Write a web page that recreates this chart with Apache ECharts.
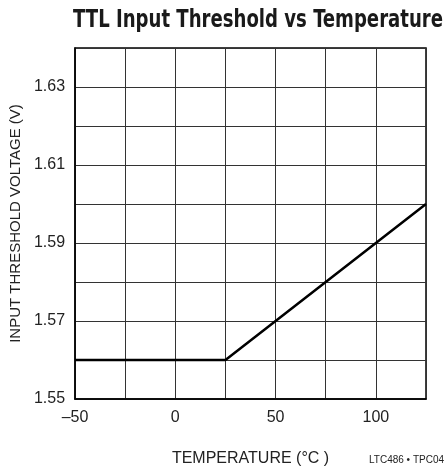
<!DOCTYPE html>
<html>
<head>
<meta charset="utf-8">
<script src="https://cdn.jsdelivr.net/npm/echarts@6/dist/echarts.min.js"></script>
<style>
  html, body { margin: 0; padding: 0; background: #fff; }
  #chart { width: 447px; height: 472px; }
</style>
</head>
<body>
<div id="chart"></div>
<script>
// data
var temps = [-50, 25, 125]
var volts = [1.56, 1.56, 1.60]
var xLabels = [-50, 0, 50, 100]
var yLabels = [1.55, 1.57, 1.59, 1.61, 1.63]

var titleText = 'TTL Input Threshold vs Temperature'
var titleFont = 'bold 25px "DejaVu Sans Condensed", "Liberation Sans", sans-serif'
var plain = '"Liberation Sans", Arial, sans-serif'

// squeeze the title so it fits the same width as the original
var ctx = document.createElement('canvas').getContext('2d')
ctx.font = titleFont
var titleScale = 370 / ctx.measureText(titleText).width

var points = []
for (var i = 0; i < temps.length; i++) {
  points.push([temps[i], volts[i]])
}

var myChart = echarts.init(document.getElementById('chart'))
var option = {
  animation: false,
  grid: {
    left: 73, right: 21, top: 48, bottom: 73,
    show: true, borderColor: '#000', borderWidth: 1.5
  },
  xAxis: {
    type: 'value',
    min: -50, max: 125, interval: 25,
    name: 'TEMPERATURE (°C )',
    nameLocation: 'middle',
    nameGap: 52,
    nameTextStyle: { fontFamily: plain, fontSize: 16, color: '#222' },
    axisLine: { onZero: false, lineStyle: { color: '#000', width: 1.5 } },
    axisTick: { show: false },
    axisLabel: {
      fontFamily: plain, fontSize: 16, color: '#222', margin: 11,
      formatter: function (v) {
        if (xLabels.indexOf(v) < 0) return ''
        return String(v).replace('-', '–')
      }
    },
    splitLine: { show: true, lineStyle: { color: '#333', width: 1 } }
  },
  yAxis: {
    type: 'value',
    min: 1.55, max: 1.64, interval: 0.01,
    name: 'INPUT THRESHOLD VOLTAGE (V)',
    nameLocation: 'middle',
    nameGap: 46,
    nameTextStyle: { fontFamily: plain, fontSize: 15, color: '#222' },
    axisLine: { onZero: false, lineStyle: { color: '#000', width: 1.5 } },
    axisTick: { show: false },
    axisLabel: {
      fontFamily: plain, fontSize: 16, color: '#222', margin: 10,
      formatter: function (v) {
        var r = Math.round(v * 100) / 100
        for (var j = 0; j < yLabels.length; j++) {
          if (Math.abs(yLabels[j] - r) < 1e-6) return r.toFixed(2)
        }
        return ''
      }
    },
    splitLine: { show: true, lineStyle: { color: '#333', width: 1 } }
  },
  graphic: [{
    type: 'text',
    x: 73,
    y: 8,
    scaleX: titleScale,
    style: { text: titleText, font: titleFont, fill: '#1a1a1a' }
  }, {
    type: 'text',
    right: 3,
    top: 455,
    style: { text: 'LTC486 • TPC04', font: '10px "Liberation Sans", Arial, sans-serif', fill: '#222' }
  }],
  series: [{
    type: 'line',
    data: points,
    symbol: 'none',
    lineStyle: { color: '#000', width: 2.5 }
  }]
}
myChart.setOption(option)
</script>
</body>
</html>
